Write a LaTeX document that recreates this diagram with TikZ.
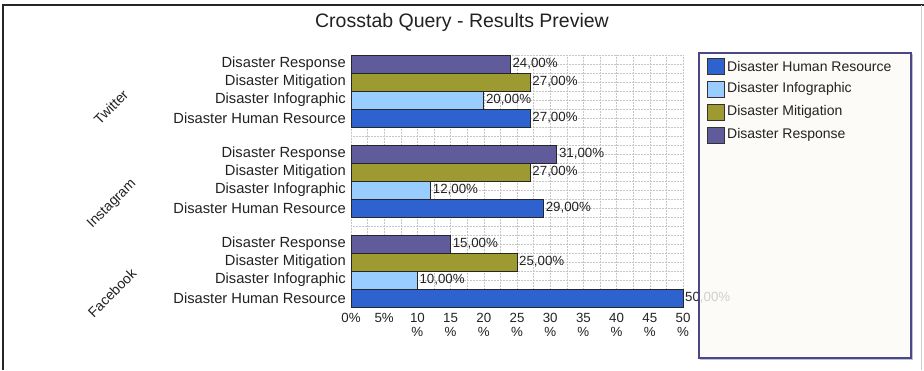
\documentclass[tikz,border=0pt]{standalone}
\usepackage{fontspec}
\setmainfont{Liberation Sans}
\definecolor{cResp}{HTML}{605C9C}
\definecolor{cMit}{HTML}{9C9A30}
\definecolor{cInfo}{HTML}{99CCFF}
\definecolor{cHR}{HTML}{2E62CE}
\definecolor{legbg}{HTML}{FCFAF5}
\definecolor{legbd}{HTML}{4A4888}
\definecolor{txt}{HTML}{222222}
\begin{document}
\begin{tikzpicture}[x=1pt,y=-1pt,
  gridline/.style={densely dotted, gray!45, line width=0.5pt},
  bar/.style={draw=black!85, line width=0.8pt},
  catlabel/.style={font=\fontsize{14.7}{16}\selectfont, anchor=east, inner sep=0pt, text=txt},
  vallabel/.style={font=\fontsize{13.3}{15}\selectfont, anchor=west, inner sep=0pt, xshift=2pt, text=txt},
  ticklabel/.style={font=\fontsize{13.3}{15}\selectfont, inner sep=0pt, text=txt},
  platlabel/.style={font=\fontsize{14}{15}\selectfont, rotate=45, inner sep=0pt, text=txt},
  legtext/.style={font=\fontsize{14}{16}\selectfont, anchor=west, inner sep=0pt, text=txt},
  swatch/.style={draw=black!80, line width=0.8pt}]
\useasboundingbox (0,0) rectangle (924,370);
\fill[white] (0,0) rectangle (924,370);
% outer frame
\draw[black!85, line width=1.3pt] (3,370) -- (3,5) -- (924,5);
\draw[black!20, line width=0.8pt] (921,5) -- (921,370);
% title
\node[font=\fontsize{19.5}{21}\selectfont, text=txt, inner sep=0pt] (title) at (462,22) {Crosstab Query - Results Preview};
% grid
\foreach \i in {0,...,20} \draw[gridline] ({351+\i*16.6},55) -- ({351+\i*16.6},307);
\foreach \j in {0,...,28} \draw[gridline] (351,{55+\j*9}) -- (684,{55+\j*9});
% bars
\foreach \g/\r/\v/\c [count=\n] in {
  0/0/24/cResp, 0/1/27/cMit, 0/2/20/cInfo, 0/3/27/cHR,
  1/0/31/cResp, 1/1/27/cMit, 1/2/12/cInfo, 1/3/29/cHR,
  2/0/15/cResp, 2/1/25/cMit, 2/2/10/cInfo, 2/3/50/cHR} {
  \pgfmathsetmacro\yt{55+\g*90+\r*18}
  \filldraw[bar, fill=\c] (351,\yt) rectangle ({351+\v*6.64},{\yt+18});
  \node[vallabel] (v\n) at ({351+\v*6.64},{\yt+9}) {\v,00\%};
}
% category labels
\foreach \g in {0,1,2} {
  \foreach \r/\name in {0/Disaster Response, 1/Disaster Mitigation, 2/Disaster Infographic, 3/Disaster Human Resource} {
    \node[catlabel] (c\g\r) at (346,{55+\g*90+\r*18+9}) {\name};
  }
}
% platform labels
\node[platlabel] (tw) at (111,107) {Twitter};
\node[platlabel] (ig) at (112,204) {Instagram};
\node[platlabel] (fb) at (112,293) {Facebook};
% axis tick labels
\foreach \t in {0,5} \node[ticklabel] (t\t) at ({351+\t*6.64},318) {\t\%};
\foreach \t in {10,15,...,50} {
  \node[ticklabel] (t\t) at ({351+\t*6.64},318) {\t};
  \node[ticklabel] (p\t) at ({351+\t*6.64},332) {\%};
}
% legend
\draw[legbd!35, line width=1pt] (700,359.5) -- (912.5,359.5) -- (912.5,54);
\draw[fill=legbg, fill opacity=0.8, draw=legbd, line width=1.2pt] (699,53) rectangle (911,358);
\foreach \k/\c/\name in {0/cHR/Disaster Human Resource, 1/cInfo/Disaster Infographic, 2/cMit/Disaster Mitigation, 3/cResp/Disaster Response} {
  \filldraw[swatch, fill=\c] (707,{58+\k*23}) rectangle (724,{74+\k*23});
  \node[legtext] (l\k) at (727,{66+\k*23}) {\name};
}
\end{tikzpicture}
\end{document}
